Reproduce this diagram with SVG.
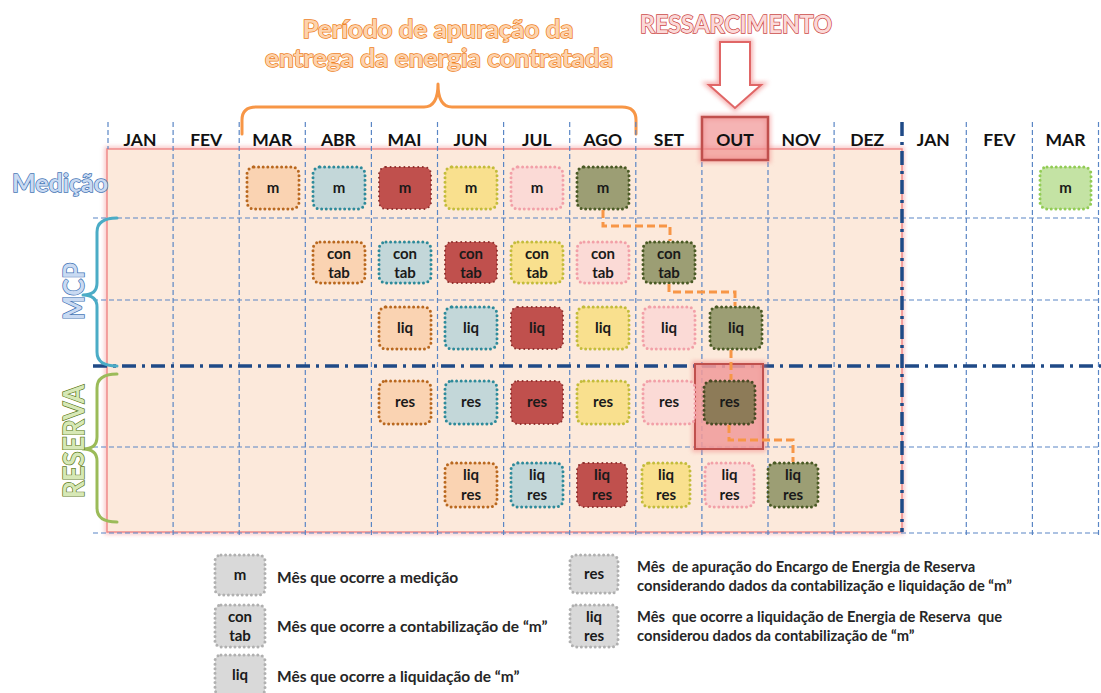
<svg xmlns="http://www.w3.org/2000/svg" width="1101" height="693" viewBox="0 0 1101 693">
<defs>
<style>
.bg{fill:#FFFFFF}
.grid{stroke:#5A86C5;stroke-width:1.2;stroke-dasharray:5 3;fill:none}
.thick{stroke:#1F4A87;stroke-width:3.5;stroke-dasharray:14 6 3 6;fill:none}
.mh{font-family:Lato,"Liberation Sans",sans-serif;font-weight:bold;font-size:17.5px;fill:#111;text-anchor:middle}
.ct{font-family:Lato,"Liberation Sans",sans-serif;font-weight:bold;font-size:15px;fill:#1a1a1a;text-anchor:middle}
.lg{font-family:Lato,"Liberation Sans",sans-serif;font-weight:bold;font-size:15.5px;fill:#262626;white-space:pre}
.lg2{font-family:Lato,"Liberation Sans",sans-serif;font-weight:bold;font-size:14.7px;fill:#262626;white-space:pre}
.bx{stroke-width:3;stroke-dasharray:0 4.6;stroke-linecap:round}
.or{fill:#FAD3B2;stroke:#B9681F}
.te{fill:#C3D7D9;stroke:#2E8A9A}
.rd{fill:#C0504D;stroke:#8C2E2C;stroke-width:2}
.ye{fill:#F9E08E;stroke:#C3BC3C}
.pk{fill:#FBDAD6;stroke:#F2A0A8}
.ol{fill:#9C9E74;stroke:#4A5A25}
.br{fill:#8D7B58;stroke:#4A4A25}
.gr{fill:#C4E3A4;stroke:#92CC55}
.gy{fill:#D9D9D9;stroke:#B0B0B0}
.con{stroke:#F79646;stroke-width:3;stroke-dasharray:8 4;fill:none}
.brace{fill:none;stroke-width:3;stroke-linecap:round;stroke-linejoin:round}
.otxt{font-family:Lato,"Liberation Sans",sans-serif;font-weight:bold;stroke-width:1.5;paint-order:stroke}
</style>
<filter id="glow" x="-20%" y="-20%" width="140%" height="140%">
<feGaussianBlur stdDeviation="2"/>
</filter>
</defs>
<rect class="bg" x="0" y="0" width="1101" height="693"/>

<!-- title -->
<g id="title">
<text class="otxt" x="438" y="38" text-anchor="middle" font-size="25" fill="#FDD3AE" stroke="#EE8226" textLength="271" lengthAdjust="spacingAndGlyphs">Período de apuração da</text>
<text class="otxt" x="439" y="67" text-anchor="middle" font-size="25" fill="#FDD3AE" stroke="#EE8226" textLength="348" lengthAdjust="spacingAndGlyphs">entrega da energia contratada</text>
<path class="brace" stroke="#F79646" d="M242,134 V120 Q242,107 256,107 H424 Q438,107 438,84 Q438,107 452,107 H622 Q636,107 636,120 V134"/>
</g>

<g id="ressarcimento">
<text class="otxt" x="736" y="33" text-anchor="middle" font-size="25" fill="#FBD9D8" stroke="#CC4A47" textLength="192" lengthAdjust="spacingAndGlyphs">RESSARCIMENTO</text>
<path d="M720,42 H750 V85 H761 L735,108 L709,85 H720 Z" fill="none" stroke="#F08080" stroke-width="6" opacity="0.6" filter="url(#glow)"/>
<path d="M720,42 H750 V85 H761 L735,108 L709,85 H720 Z" fill="#FFFFFF" stroke="#E06666" stroke-width="2"/>
</g>

<!-- pink area -->
<rect x="107" y="149" width="795" height="383" fill="none" stroke="#F4A0A0" stroke-width="5" opacity="0.6" filter="url(#glow)"/>
<rect x="107" y="149" width="795" height="383" fill="#FCE9DB" stroke="#F08A8A" stroke-width="1.5"/>

<!-- grid -->
<g id="grid">
<path class="grid" d="M173.1,122V535 M239.2,122V535 M305.3,122V535 M371.4,122V535 M437.5,122V535 M503.6,122V535 M569.7,122V535 M635.8,122V535 M701.9,122V535 M768,122V535 M834.1,122V535 M966.3,122V535 M1032.4,122V535 M1098.5,122V535"/>
<path class="grid" d="M108,122V149"/>
<path class="grid" d="M93,218H1101 M93,300H1101 M93,447H1101 M93,533H1101"/>
<path class="thick" d="M93,366H1101"/>
<path class="thick" d="M902,122V532"/>
</g>

<!-- OUT highlight -->
<g id="out-header">
<rect x="702" y="117" width="66" height="43" fill="none" stroke="#F08080" stroke-width="6" opacity="0.5" filter="url(#glow)"/>
<rect x="702" y="117" width="66" height="43" fill="#F08C8C" fill-opacity="0.65" stroke="#C0504D" stroke-width="2.5"/>
</g>

<!-- month headers -->
<g id="months">
<text class="mh" x="140" y="146">JAN</text>
<text class="mh" x="206.2" y="146">FEV</text>
<text class="mh" x="272.3" y="146">MAR</text>
<text class="mh" x="338.4" y="146">ABR</text>
<text class="mh" x="404.5" y="146">MAI</text>
<text class="mh" x="470.6" y="146">JUN</text>
<text class="mh" x="536.7" y="146">JUL</text>
<text class="mh" x="602.8" y="146">AGO</text>
<text class="mh" x="668.9" y="146">SET</text>
<text class="mh" x="735" y="146">OUT</text>
<text class="mh" x="801.1" y="146">NOV</text>
<text class="mh" x="867.2" y="146">DEZ</text>
<text class="mh" x="933.3" y="146">JAN</text>
<text class="mh" x="999.4" y="146">FEV</text>
<text class="mh" x="1065.5" y="146">MAR</text>
</g>

<!-- left labels -->
<g id="label-medicao">
<text class="otxt" x="60" y="192" text-anchor="middle" font-size="25" fill="#C9DAF2" stroke="#4676B5" textLength="96" lengthAdjust="spacingAndGlyphs">Medição</text>
</g>
<g id="label-mcp">
<path class="brace" stroke="#4BACC6" d="M117,218 Q97,218 97,232 V283 Q97,295 83,295 Q97,295 97,307 V352 Q97,366 117,366"/>
<text class="otxt" transform="translate(84,291.5) rotate(-90)" text-anchor="middle" font-size="29" fill="#C9DAF2" stroke="#4676B5" stroke-width="1.8" textLength="57" lengthAdjust="spacingAndGlyphs">MCP</text>
</g>
<g id="label-reserva">
<path class="brace" stroke="#9BBB59" d="M117,374 Q97,374 97,388 V437 Q97,449 83,449 Q97,449 97,461 V508 Q97,522 117,522"/>
<text class="otxt" transform="translate(84,441.5) rotate(-90)" text-anchor="middle" font-size="29" fill="#D7E8B6" stroke="#5F7A27" stroke-width="1.8" textLength="113" lengthAdjust="spacingAndGlyphs">RESERVA</text>
</g>

<!-- Medição row -->
<g id="m-mar"><rect class="bx or" x="247" y="167" width="52" height="42" rx="7"/><text class="ct" x="273" y="193">m</text></g>
<g id="m-abr"><rect class="bx te" x="313" y="167" width="52" height="42" rx="7"/><text class="ct" x="339" y="193">m</text></g>
<g id="m-mai"><rect class="bx rd" x="379" y="167" width="52" height="42" rx="7"/><text class="ct" x="405" y="193">m</text></g>
<g id="m-jun"><rect class="bx ye" x="445" y="167" width="52" height="42" rx="7"/><text class="ct" x="471" y="193">m</text></g>
<g id="m-jul"><rect class="bx pk" x="511" y="167" width="52" height="42" rx="7"/><text class="ct" x="537" y="193">m</text></g>
<g id="m-ago"><rect class="bx ol" x="577" y="167" width="52" height="42" rx="7"/><text class="ct" x="603" y="193">m</text></g>
<g id="m-mar2"><rect class="bx gr" x="1040" y="167" width="51" height="42" rx="7"/><text class="ct" x="1065.5" y="193">m</text></g>

<!-- contab row -->
<g id="c-abr"><rect class="bx or" x="313" y="242" width="52" height="41" rx="7"/><text class="ct" x="339" y="259">con</text><text class="ct" x="339" y="278">tab</text></g>
<g id="c-mai"><rect class="bx te" x="379" y="242" width="52" height="41" rx="7"/><text class="ct" x="405" y="259">con</text><text class="ct" x="405" y="278">tab</text></g>
<g id="c-jun"><rect class="bx rd" x="445" y="242" width="52" height="41" rx="7"/><text class="ct" x="471" y="259">con</text><text class="ct" x="471" y="278">tab</text></g>
<g id="c-jul"><rect class="bx ye" x="511" y="242" width="52" height="41" rx="7"/><text class="ct" x="537" y="259">con</text><text class="ct" x="537" y="278">tab</text></g>
<g id="c-ago"><rect class="bx pk" x="577" y="242" width="52" height="41" rx="7"/><text class="ct" x="603" y="259">con</text><text class="ct" x="603" y="278">tab</text></g>
<g id="c-set"><rect class="bx ol" x="643" y="242" width="52" height="41" rx="7"/><text class="ct" x="669" y="259">con</text><text class="ct" x="669" y="278">tab</text></g>

<!-- liq row -->
<g id="l-mai"><rect class="bx or" x="379" y="307" width="52" height="42" rx="7"/><text class="ct" x="405" y="333">liq</text></g>
<g id="l-jun"><rect class="bx te" x="445" y="307" width="52" height="42" rx="7"/><text class="ct" x="471" y="333">liq</text></g>
<g id="l-jul"><rect class="bx rd" x="511" y="307" width="52" height="42" rx="7"/><text class="ct" x="537" y="333">liq</text></g>
<g id="l-ago"><rect class="bx ye" x="577" y="307" width="52" height="42" rx="7"/><text class="ct" x="603" y="333">liq</text></g>
<g id="l-set"><rect class="bx pk" x="643" y="307" width="52" height="42" rx="7"/><text class="ct" x="669" y="333">liq</text></g>
<g id="l-out"><rect class="bx ol" x="710" y="307" width="52" height="42" rx="7"/><text class="ct" x="736" y="333">liq</text></g>

<!-- res highlight -->
<g id="res-highlight">
<rect x="695" y="364" width="68" height="85" fill="none" stroke="#F08080" stroke-width="6" opacity="0.5" filter="url(#glow)"/>
<rect x="695" y="364" width="68" height="85" fill="#F09A9A" fill-opacity="0.85" stroke="#C0504D" stroke-width="2"/>
</g>

<!-- res row -->
<g id="r-mai"><rect class="bx or" x="379" y="381" width="52" height="43" rx="7"/><text class="ct" x="405" y="407">res</text></g>
<g id="r-jun"><rect class="bx te" x="445" y="381" width="52" height="43" rx="7"/><text class="ct" x="471" y="407">res</text></g>
<g id="r-jul"><rect class="bx rd" x="511" y="381" width="52" height="43" rx="7"/><text class="ct" x="537" y="407">res</text></g>
<g id="r-ago"><rect class="bx ye" x="577" y="381" width="52" height="43" rx="7"/><text class="ct" x="603" y="407">res</text></g>
<g id="r-set"><rect class="bx pk" x="643" y="381" width="52" height="43" rx="7"/><text class="ct" x="669" y="407">res</text></g>
<g id="r-out"><rect class="bx br" x="704" y="381" width="51" height="43" rx="7"/><text class="ct" x="729.5" y="407">res</text></g>

<!-- liq res row -->
<g id="lr-jun"><rect class="bx or" x="445" y="463" width="52" height="44" rx="7"/><text class="ct" x="471" y="480">liq</text><text class="ct" x="471" y="500">res</text></g>
<g id="lr-jul"><rect class="bx te" x="511" y="463" width="52" height="44" rx="7"/><text class="ct" x="537" y="480">liq</text><text class="ct" x="537" y="500">res</text></g>
<g id="lr-ago"><rect class="bx rd" x="577" y="463" width="50" height="44" rx="7"/><text class="ct" x="602" y="480">liq</text><text class="ct" x="602" y="500">res</text></g>
<g id="lr-set"><rect class="bx ye" x="642" y="463" width="48" height="44" rx="7"/><text class="ct" x="666" y="480">liq</text><text class="ct" x="666" y="500">res</text></g>
<g id="lr-out"><rect class="bx pk" x="705" y="463" width="49" height="44" rx="7"/><text class="ct" x="729.5" y="480">liq</text><text class="ct" x="729.5" y="500">res</text></g>
<g id="lr-nov"><rect class="bx ol" x="768" y="463" width="50" height="44" rx="7"/><text class="ct" x="793" y="480">liq</text><text class="ct" x="793" y="500">res</text></g>

<!-- connectors -->
<g id="connectors">
<path class="con" d="M603,210 V226 H670 V241"/>
<path class="con" d="M669,284 V292 H735 V306"/>
<path class="con" d="M731,350 V380"/>
<path class="con" d="M729,425 V440 H793 V462"/>
</g>

<!-- legend -->
<g id="legend-m"><rect class="bx gy" x="215" y="555" width="50" height="40" rx="6"/><text class="ct" x="240" y="580">m</text><text class="lg" x="277" y="583">Mês que ocorre a medição</text></g>
<g id="legend-contab"><rect class="bx gy" x="215" y="605" width="50" height="42" rx="6"/><text class="ct" x="240" y="622">con</text><text class="ct" x="240" y="641">tab</text><text class="lg" x="277" y="632">Mês que ocorre a contabilização de “m”</text></g>
<g id="legend-liq"><rect class="bx gy" x="215" y="655" width="50" height="40" rx="6"/><text class="ct" x="240" y="680">liq</text><text class="lg" x="277" y="682">Mês que ocorre a liquidação de “m”</text></g>
<g id="legend-res"><rect class="bx gy" x="570" y="555" width="48" height="38" rx="6"/><text class="ct" x="594" y="579">res</text><text class="lg2" x="637" y="572">Mês  de apuração do Encargo de Energia de Reserva</text><text class="lg2" x="637" y="591">considerando dados da contabilização e liquidação de “m”</text></g>
<g id="legend-liqres"><rect class="bx gy" x="570" y="605" width="48" height="42" rx="6"/><text class="ct" x="594" y="622">liq</text><text class="ct" x="594" y="641">res</text><text class="lg2" x="637" y="622">Mês  que ocorre a liquidação de Energia de Reserva  que</text><text class="lg2" x="637" y="641">considerou dados da contabilização de “m”</text></g>
</svg>
